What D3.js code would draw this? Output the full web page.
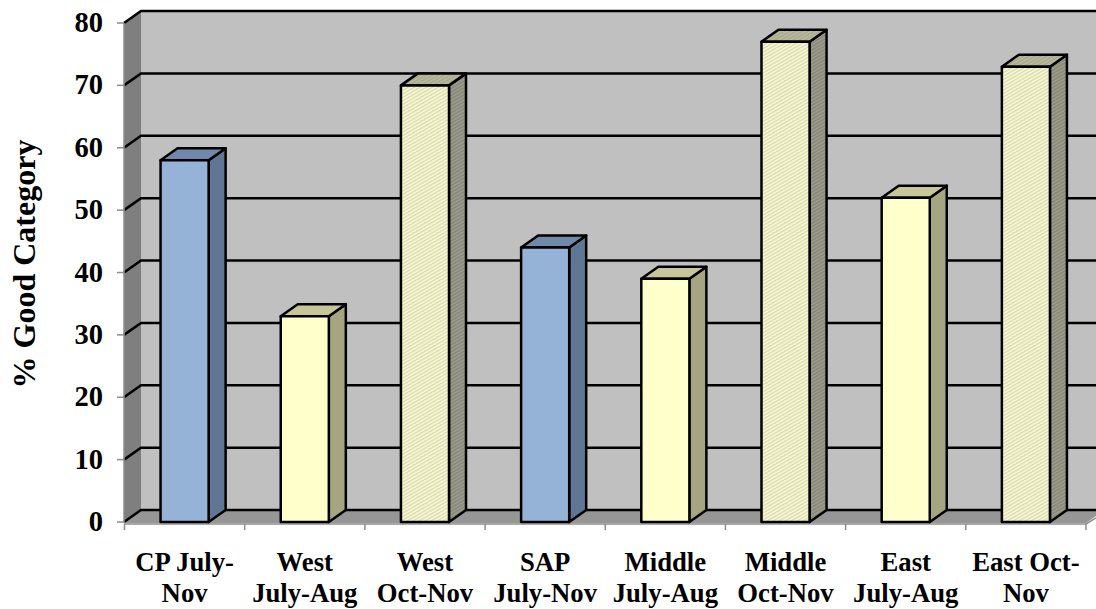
<!DOCTYPE html>
<html>
<head>
<meta charset="utf-8">
<script src="https://cdn.jsdelivr.net/npm/d3@7/dist/d3.min.js"></script>
<style>
html,body{margin:0;padding:0;background:#fff;overflow:hidden}
svg{display:block}
text{font-family:"Liberation Serif","Times New Roman",serif;font-weight:bold;fill:#000}
</style>
</head>
<body>
<div id="chart"></div>
<script>
// Share of the "Good" category per region and season
const categories = ["CP July-Nov","West July-Aug","West Oct-Nov","SAP July-Nov","Middle July-Aug","Middle Oct-Nov","East July-Aug","East Oct-Nov"];
const categoryLines = [["CP July-","Nov"],["West","July-Aug"],["West","Oct-Nov"],["SAP","July-Nov"],["Middle","July-Aug"],["Middle","Oct-Nov"],["East","July-Aug"],["East Oct-","Nov"]];
const values = [58,33,70,44,39,77,52,73];
const styles = ["blue","yellow","hatch","blue","yellow","hatch","yellow","hatch"];
const yTicks = [0,10,20,30,40,50,60,70,80];

const W = 1096, H = 609;
const depthX = 17, depthY = -12;
const x = d3.scaleBand().domain(categories).range([124.5,1086]).paddingInner(0.6).paddingOuter(0.3);
const band = d3.scaleBand().domain(categories).range([124.5,1086]);
const y = d3.scaleLinear().domain([0,80]).range([522,23]);
const left = 124, right = band.range()[1];

const svg = d3.select("#chart").append("svg").attr("width",W).attr("height",H);
const defs = svg.append("defs");

// Fine diagonal hatching for the Oct-Nov bars
function hatch(id, base, stripe){
  const p = defs.append("pattern").attr("id",id).attr("patternUnits","userSpaceOnUse")
    .attr("width",3).attr("height",3).attr("patternTransform","rotate(-30)");
  p.append("rect").attr("width",3).attr("height",3).attr("fill",base);
  p.append("rect").attr("width",3).attr("height",1.4).attr("fill",stripe);
}
hatch("hatchFront","#fbfbd8","#d8d8ae");
hatch("hatchTop","#a8a88c","#bcbca0");
hatch("hatchSide","#86867a","#a0a08c");

const palette = {
  blue:{front:"#95b3d7",top:"#7089aa",side:"#5f7794"},
  yellow:{front:"#ffffcc",top:"#c6c69a",side:"#a5a582"},
  hatch:{front:"url(#hatchFront)",top:"url(#hatchTop)",side:"url(#hatchSide)"}
};
const poly = pts => pts.map(p=>p.join(",")).join(" ");

// Walls and floor of the 3D box
svg.append("polygon").attr("fill","#c0c0c0")
  .attr("points",poly([[left+depthX,y(80)+depthY],[W,y(80)+depthY],[W,y(0)+depthY],[left+depthX,y(0)+depthY]]));
svg.append("polygon").attr("fill","#7f7f7f")
  .attr("points",poly([[left,y(80)],[left+depthX,y(80)+depthY],[left+depthX,y(0)+depthY],[left,y(0)]]));
svg.append("polygon").attr("fill","#969696")
  .attr("points",poly([[left,y(0)],[left+depthX,y(0)+depthY],[W,y(0)+depthY],[W,y(0)+depthY+6],[right,y(0)+1],[left,y(0)+1]]));

// Gridlines wrap from the back wall down the side wall
yTicks.forEach(t=>{
  svg.append("polyline").attr("fill","none").attr("stroke","#000").attr("stroke-width",2.5)
    .attr("points",poly([[left,y(t)],[left+depthX,y(t)+depthY],[W,y(t)+depthY]]));
});

// Axis lines and ticks
svg.append("line").attr("x1",left).attr("x2",left).attr("y1",y(80)).attr("y2",y(0)+1).attr("stroke","#8c8c8c").attr("stroke-width",1.5);
svg.append("polyline").attr("fill","none").attr("stroke","#8c8c8c").attr("stroke-width",1.5)
  .attr("points",poly([[left,y(0)+2],[right,y(0)+2],[W,y(0)+depthY+8]]));
yTicks.forEach(t=>{
  svg.append("line").attr("x1",left-7).attr("x2",left).attr("y1",y(t)).attr("y2",y(t)).attr("stroke","#8c8c8c").attr("stroke-width",1.5);
});
const bandEdges = categories.map(c=>band(c)).concat(right);
bandEdges.forEach(e=>{
  svg.append("line").attr("x1",e).attr("x2",e).attr("y1",y(0)+2).attr("y2",y(0)+8).attr("stroke","#8c8c8c").attr("stroke-width",1.5);
});

// Bars: side, top, then front face
const bars = svg.selectAll("g.bar").data(categories.map((c,i)=>({c,v:values[i],s:palette[styles[i]]})))
  .join("g").attr("class","bar").attr("stroke","#000").attr("stroke-width",2.5).attr("stroke-linejoin","round");
bars.append("polygon").attr("fill",d=>d.s.side).attr("points",d=>{
  const r=x(d.c)+x.bandwidth(), t=y(d.v), b=y(0);
  return poly([[r,t],[r+depthX,t+depthY],[r+depthX,b+depthY],[r,b]]);
});
bars.append("polygon").attr("fill",d=>d.s.top).attr("points",d=>{
  const l=x(d.c), r=l+x.bandwidth(), t=y(d.v);
  return poly([[l,t],[l+depthX,t+depthY],[r+depthX,t+depthY],[r,t]]);
});
bars.append("rect").attr("fill",d=>d.s.front).attr("x",d=>x(d.c)).attr("y",d=>y(d.v))
  .attr("width",x.bandwidth()).attr("height",d=>y(0)-y(d.v));

// Tick labels
svg.selectAll("text.ytick").data(yTicks).join("text").attr("class","ytick")
  .attr("x",103).attr("y",d=>y(d)+9).attr("text-anchor","end").attr("font-size",28.5).text(d=>d);

categories.forEach((c,i)=>{
  const cx = band(c)+band.bandwidth()/2;
  categoryLines[i].forEach((line,j)=>{
    svg.append("text").attr("x",cx).attr("y",571+j*31).attr("text-anchor","middle").attr("font-size",26.7).text(line);
  });
});

// Value axis title
svg.append("text").attr("transform","translate(35,264) rotate(-90)").attr("text-anchor","middle").attr("font-size",32).text("% Good Category");
</script>
</body>
</html>
